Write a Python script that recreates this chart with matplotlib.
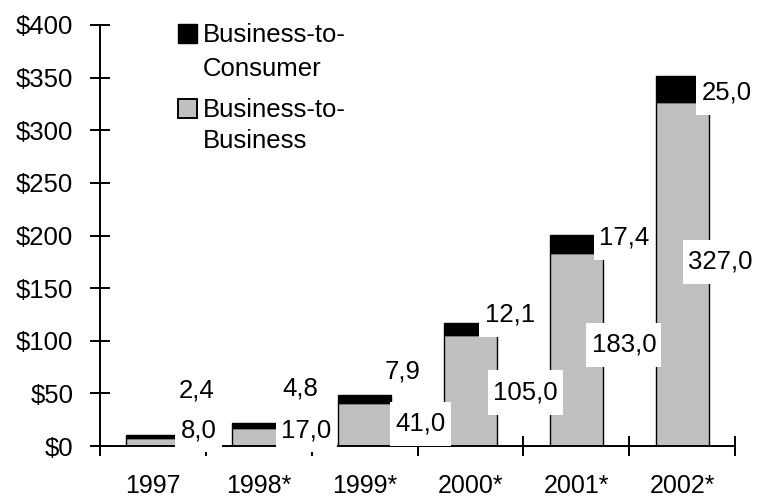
import matplotlib
matplotlib.use('Agg')
import matplotlib.pyplot as plt
from matplotlib.path import Path
from matplotlib.patches import Rectangle

plt.rcParams['font.family'] = ['Liberation Sans', 'DejaVu Sans']

# data
years = ['1997', '1998*', '1999*', '2000*', '2001*', '2002*']
b2b = [8.0, 17.0, 41.0, 105.0, 183.0, 327.0]
b2c = [2.4, 4.8, 7.9, 12.1, 17.4, 25.0]
yticks = [0, 50, 100, 150, 200, 250, 300, 350, 400]

# label layout (data units)
b2b_lbl_x = [0.43, 1.45, 2.53, 3.52, 4.45, 5.36]
b2b_lbl_y = [15, 15, 21, 51, 96, 175]
b2c_lbl_x = [0.41, 1.39, 2.36, 3.37, 4.45, 5.42]
b2c_lbl_y = [53, 55, 71, 125, 198, 336]

FS = 18.5


def tall_box(x0, y0, width, height, mutation_size):
    # white box, narrow on the sides, taller above and below
    px = 0.2 * mutation_size
    py = 0.4 * mutation_size
    x0 -= px
    y0 -= py
    x1 = x0 + width + 2 * px
    y1 = y0 + height + 2 * py
    return Path([(x0, y0), (x1, y0), (x1, y1), (x0, y1), (x0, y0)], closed=True)


def fmt(v):
    return f'{v:.1f}'.replace('.', ',')


fig = plt.figure(figsize=(7.57, 4.97), dpi=100)
ax = fig.add_axes([100 / 757, 1 - 446 / 497, 635 / 757, 421 / 497])

x = list(range(len(years)))
ax.bar(x, b2b, width=0.5, color='#c0c0c0', edgecolor='black', linewidth=1.0)
ax.bar(x, b2c, width=0.5, bottom=b2b, color='black', edgecolor='black', linewidth=1.0)

box = dict(boxstyle=tall_box, facecolor='white', edgecolor='none')
for i in x:
    ax.text(b2b_lbl_x[i], b2b_lbl_y[i], fmt(b2b[i]), fontsize=FS,
            ha='center', va='center', bbox=box, zorder=5)
    ax.text(b2c_lbl_x[i], b2c_lbl_y[i], fmt(b2c[i]), fontsize=FS,
            ha='center', va='center', bbox=box, zorder=5)

ax.set_xlim(-0.5, 5.5)
ax.set_ylim(0, 400)
ax.spines['top'].set_visible(False)
ax.spines['right'].set_visible(False)
for s in ('left', 'bottom'):
    ax.spines[s].set_linewidth(1.4)

ax.set_yticks(yticks)
ax.set_yticklabels([f'${v}' for v in yticks], fontsize=FS)
ax.set_xticks([i - 0.5 for i in range(len(years) + 1)])
ax.set_xticklabels([])
ax.set_xticks(x, minor=True)
ax.set_xticklabels(years, minor=True, fontsize=18)
ax.tick_params(axis='both', which='major', direction='inout', length=14.4, width=1.4)
ax.tick_params(axis='y', which='major', pad=12)
ax.tick_params(axis='x', which='minor', length=0, pad=20)

# legend drawn by hand: square aligned with first line of each label
sq_w, sq_h = 19 / 635, 19 / 421
ax.add_patch(Rectangle((0.123, 0.957), sq_w, sq_h, transform=ax.transAxes,
                       facecolor='black', edgecolor='black', clip_on=False))
ax.add_patch(Rectangle((0.123, 0.779), sq_w, sq_h, transform=ax.transAxes,
                       facecolor='#c0c0c0', edgecolor='black', linewidth=1.4, clip_on=False))
ax.text(0.162, 0.976, 'Business-to-', transform=ax.transAxes, fontsize=FS, va='center')
ax.text(0.162, 0.8955, 'Consumer', transform=ax.transAxes, fontsize=FS, va='center')
ax.text(0.162, 0.798, 'Business-to-', transform=ax.transAxes, fontsize=FS, va='center')
ax.text(0.162, 0.7245, 'Business', transform=ax.transAxes, fontsize=FS, va='center')

fig.savefig('out.png', dpi=100)
